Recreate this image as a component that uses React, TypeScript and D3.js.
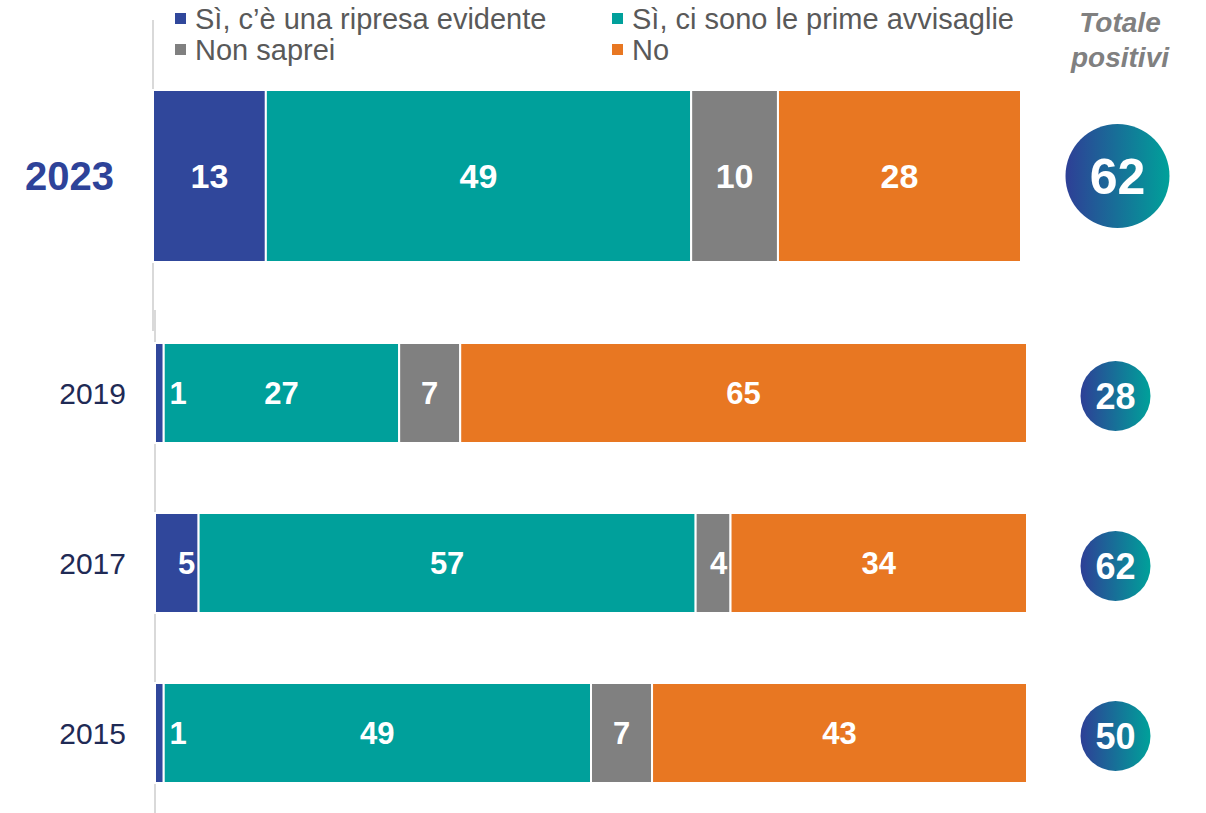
import React from "react";
import * as d3 from "d3";

const categories = ["Sì, c’è una ripresa evidente", "Sì, ci sono le prime avvisaglie", "Non saprei", "No"];
const colors = ["#30479b", "#00a09b", "#808080", "#e87722"];
const years = ["2023", "2019", "2017", "2015"];
const values2023 = [13, 49, 10, 28];
const values2019 = [1, 27, 7, 65];
const values2017 = [5, 57, 4, 34];
const values2015 = [1, 49, 7, 43];
const totals = [62, 28, 62, 50];

const W = 1206, H = 813;
const FONT = "'Liberation Sans', Arial, sans-serif";

export default function App() {
  const rows = [values2023, values2019, values2017, values2015];
  const xTop = d3.scaleLinear().domain([0, 100]).range([153, 1021]);
  const xBot = d3.scaleLinear().domain([0, 100]).range([155, 1027]);
  const yBot = d3.scaleBand().domain(years.slice(1)).range([343, 783]).paddingInner(70 / 170).paddingOuter(0);
  const bars = rows.map((vals, i) => {
    const isTop = i === 0;
    const x = isTop ? xTop : xBot;
    const y0 = isTop ? 90 : (yBot(years[i]) as number);
    const h = isTop ? 172 : yBot.bandwidth();
    let acc = 0;
    const segs = vals.map((v, j) => {
      const s = acc;
      acc += v;
      return { v, j, x0: x(s), x1: x(acc) };
    });
    return { year: years[i], isTop, y0, h, segs };
  });

  return (
    <svg width={W} height={H} style={{ position: "absolute", left: 0, top: 0 }} fontFamily={FONT}>
      <defs>
        <linearGradient id="circ" x1="0" x2="1" y1="0" y2="0">
          <stop offset="0" stopColor="#2e3f96" />
          <stop offset="1" stopColor="#00a19a" />
        </linearGradient>
      </defs>
      <rect width={W} height={H} fill="#fff" />
      {/* axis lines */}
      <line x1={153} x2={153} y1={20} y2={331} stroke="#d9d9d9" strokeWidth={2} />
      <line x1={155} x2={155} y1={310} y2={813} stroke="#d9d9d9" strokeWidth={2} />
      {/* legend */}
      {categories.map((c, i) => {
        const lx = i % 2 === 0 ? 175 : 612;
        const ly = i < 2 ? 19 : 50;
        return (
          <g key={c}>
            <rect x={lx} y={ly - 6} width={11} height={11} fill={colors[i]} />
            <text x={lx + 20} y={ly} dy="0.35em" fontSize={29} fill="#595959">{c}</text>
          </g>
        );
      })}
      <text x={1120} y={32} textAnchor="middle" fontSize={28} fontWeight="bold" fontStyle="italic" fill="#808080">Totale</text>
      <text x={1120} y={67} textAnchor="middle" fontSize={28} fontWeight="bold" fontStyle="italic" fill="#808080">positivi</text>
      {bars.map((b, i) => {
        const cy = b.y0 + b.h / 2 + (b.isTop ? 0 : 3);
        const cx = b.isTop ? 1117.5 : 1115.5;
        return (
          <g key={b.year}>
            {b.segs.map((s) => (
              <rect key={s.j} x={s.x0} y={b.y0} width={s.x1 - s.x0} height={b.h} fill={colors[s.j]} stroke="#fff" strokeWidth={2} />
            ))}
            {b.segs.map((s) => {
              const w = s.x1 - s.x0;
              const lx = w < 50 ? Math.max(s.x1 - 12, s.x0 + 23) : (s.x0 + s.x1) / 2;
              return (
                <text key={"t" + s.j} x={lx} y={b.y0 + b.h / 2} dy="0.36em" textAnchor="middle" fontSize={b.isTop ? 34 : 31} fontWeight="bold" fill="#fff">{s.v}</text>
              );
            })}
            <text x={b.isTop ? 114 : 126} y={b.y0 + b.h / 2} dy="0.36em" textAnchor="end" fontSize={b.isTop ? 40 : 30} fontWeight={b.isTop ? "bold" : "normal"} fill={b.isTop ? "#2e4399" : "#1f2a55"}>{b.year}</text>
            <circle cx={cx} cy={cy} r={b.isTop ? 52 : 35} fill="url(#circ)" />
            <text x={cx} y={cy} dy="0.36em" textAnchor="middle" fontSize={b.isTop ? 50 : 36} fontWeight="bold" fill="#fff">{totals[i]}</text>
          </g>
        );
      })}
    </svg>
  );
}
